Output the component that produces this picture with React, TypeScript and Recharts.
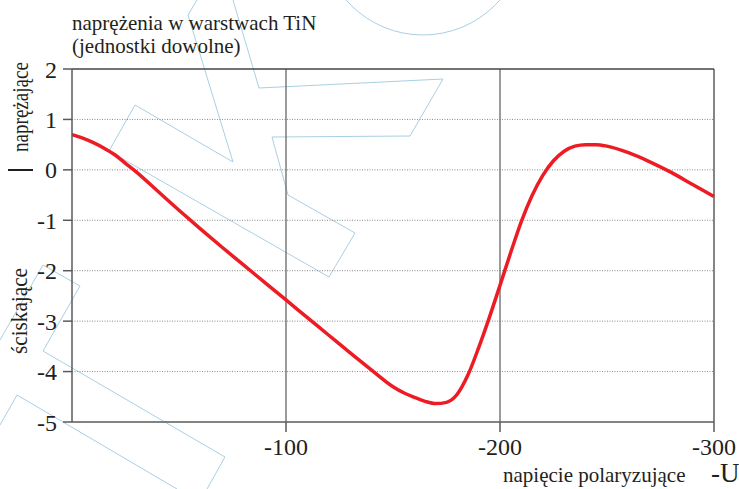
import React from 'react';
import { LineChart, Line, XAxis, YAxis, ReferenceLine, Customized } from 'recharts';

// Bias voltage (U, in V) and stress in TiN layers (arbitrary units)
const voltages = [0, -5, -10, -15, -20, -25, -30, -40, -50, -60, -70, -80, -90, -100, -110, -120, -130, -140, -150, -155, -160, -165, -170, -175, -180, -185, -190, -195, -200, -205, -210, -215, -220, -225, -230, -235, -240, -245, -250, -260, -270, -280, -290, -300];
const stress = [0.70, 0.63, 0.54, 0.43, 0.30, 0.13, -0.04, -0.42, -0.80, -1.17, -1.53, -1.88, -2.23, -2.58, -2.93, -3.28, -3.63, -3.97, -4.30, -4.42, -4.51, -4.59, -4.635, -4.61, -4.45, -4.07, -3.53, -2.93, -2.29, -1.64, -1.02, -0.51, -0.11, 0.18, 0.37, 0.47, 0.50, 0.50, 0.47, 0.34, 0.16, -0.05, -0.29, -0.53];

const xTicks = [-100, -200, -300];
const yTicks = [2, 1, 0, -1, -2, -3, -4, -5];
const dottedLevels = [1, 0, -1, -2, -3, -4];
const solidVerticals = [-100, -200];

const titleLine1 = 'naprężenia w warstwach TiN';
const titleLine2 = '(jednostki dowolne)';
const tensileLabel = 'naprężające';
const compressiveLabel = 'ściskające';
const xTitle = 'napięcie polaryzujące';
const xSymbol = '-U';

const data = voltages.map((u, i) => ({ u, s: stress[i] }));

const FONT = '"Liberation Serif", "Times New Roman", serif';
const TEXT = '#231f20';
const AXIS = '#5a5a5a';
const WM = '#a9cfe3';

// decorative background watermark outlines
const watermarkPaths = [
  'M197,0 L188,15 L233,162 L135,105 L109,151 L329,277 L355,233 L288,195 L272,137 L410,136 L443,79 L259,88 L233,0',
  'M0,340 L43,265 L80,286 L43,351 L225,457 L207,489',
  'M0,425 L17,395 L177,489',
];

const Watermark = () => (
  <g>
    {watermarkPaths.map((d, i) => (
      <path key={i} d={d} fill="none" stroke={WM} strokeWidth={1} />
    ))}
    <circle cx={423} cy={-67} r={102} fill="none" stroke={WM} strokeWidth={1} />
  </g>
);

const Labels = () => (
  <g fontFamily={FONT} fill={TEXT}>
    <text x={72} y={30} fontSize={21}>{titleLine1}</text>
    <text x={72} y={53} fontSize={21}>{titleLine2}</text>
    <g transform="translate(28,152) rotate(-90)">
      <text x={0} y={0} fontSize={23} textLength={90} lengthAdjust="spacingAndGlyphs">{tensileLabel}</text>
    </g>
    <g transform="translate(27,354) rotate(-90)">
      <text x={0} y={0} fontSize={23} textLength={86} lengthAdjust="spacingAndGlyphs">{compressiveLabel}</text>
    </g>
    <text x={503} y={482} fontSize={21}>{xTitle}</text>
    <text x={711} y={482} fontSize={27}>{xSymbol}</text>
  </g>
);

const XTick = (props: any) => {
  const { x, y, payload } = props;
  return (
    <text x={x} y={y + 21} textAnchor="middle" fontFamily={FONT} fontSize={24} fill={TEXT}>
      {payload.value}
    </text>
  );
};

const YTick = (props: any) => {
  const { x, y, payload } = props;
  return (
    <text x={x - 4} y={y} dy="0.36em" textAnchor="end" fontFamily={FONT} fontSize={24} fill={TEXT}>
      {payload.value}
    </text>
  );
};

export default function App() {
  return (
    <div style={{ position: 'absolute', left: 0, top: 0, width: 739, height: 489, background: '#fff' }}>
      <LineChart width={739} height={489} data={data} margin={{ top: 69, right: 25, bottom: 0, left: 0 }}>
        <Customized component={Watermark} />
        <XAxis
          dataKey="u"
          type="number"
          domain={[-300, 0]}
          reversed
          ticks={xTicks}
          tickSize={10}
          height={67}
          stroke={AXIS}
          strokeWidth={1.5}
          tick={<XTick />}
          interval={0}
        />
        <YAxis
          type="number"
          domain={[-5, 2]}
          ticks={yTicks}
          tickSize={9}
          width={72}
          stroke={AXIS}
          strokeWidth={1.5}
          tick={<YTick />}
          interval={0}
        />
        {dottedLevels.map((v) => (
          <ReferenceLine key={'h' + v} y={v} stroke="#8a8a8a" strokeDasharray="1 1.5" strokeWidth={1} />
        ))}
        {solidVerticals.map((v) => (
          <ReferenceLine key={'v' + v} x={v} stroke="#666" strokeWidth={1.3} />
        ))}
        <ReferenceLine y={2} stroke="#444" strokeWidth={1.3} />
        <ReferenceLine x={-300} stroke="#444" strokeWidth={1.3} />
        <Line
          type="monotone"
          dataKey="s"
          stroke="#ed1c24"
          strokeWidth={3.5}
          dot={false}
          isAnimationActive={false}
        />
        <Customized component={Labels} />
      </LineChart>
      <div style={{ position: 'absolute', left: 8, top: 169, width: 25, height: 1.5, background: TEXT }} />
    </div>
  );
}
